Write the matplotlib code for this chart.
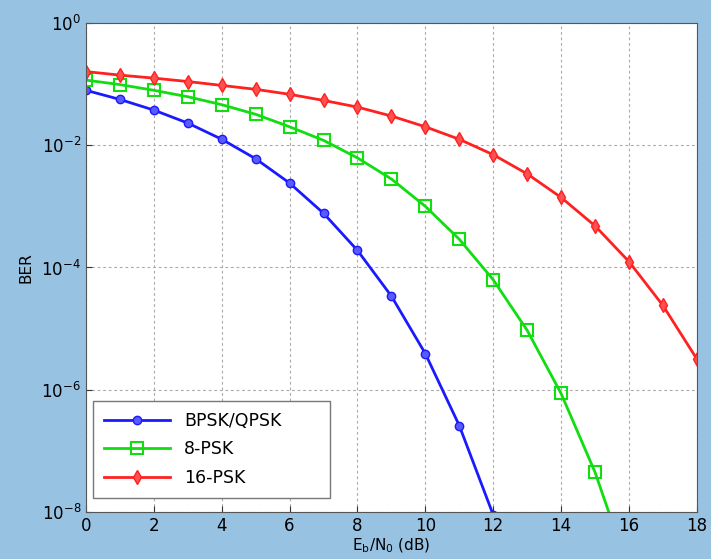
import matplotlib
matplotlib.use('Agg')
import matplotlib.pyplot as plt

ebno = [0, 1, 2, 3, 4, 5, 6, 7, 8, 9, 10, 11, 12, 13, 14, 15, 16, 17, 18]

ber_bpsk = [7.9e-2, 5.6e-2, 3.75e-2, 2.3e-2, 1.25e-2, 6.0e-3, 2.4e-3, 7.7e-4,
            1.9e-4, 3.4e-5, 3.9e-6, 2.6e-7, 9.0e-9]
ber_8psk = [1.16e-1, 9.8e-2, 7.9e-2, 6.2e-2, 4.6e-2, 3.2e-2, 2.0e-2, 1.2e-2,
            6.2e-3, 2.8e-3, 1.0e-3, 2.9e-4, 6.3e-5, 9.4e-6, 8.7e-7, 4.5e-8, 1.1e-9]
ber_16psk = [1.6e-1, 1.4e-1, 1.25e-1, 1.1e-1, 9.5e-2, 8.2e-2, 6.8e-2, 5.4e-2,
             4.2e-2, 3.0e-2, 2.0e-2, 1.25e-2, 7.0e-3, 3.4e-3, 1.4e-3, 4.8e-4,
             1.25e-4, 2.4e-5, 3.2e-6]

fig = plt.figure(figsize=(7.11, 5.59), dpi=100, facecolor='#98c2e2')
ax = fig.add_axes([0.121, 0.084, 0.859, 0.875])
ax.set_facecolor('white')

ax.semilogy(ebno[:len(ber_bpsk)], ber_bpsk, '-o', color='#1a1aff', lw=2,
            ms=6, mfc='#5a5aff', mec='#1a1aff', label='BPSK/QPSK')
ax.semilogy(ebno[:len(ber_8psk)], ber_8psk, '-s', color='#11dd11', lw=2,
            ms=8, mfc='none', mec='#11dd11', mew=1.5, label='8-PSK')
ax.semilogy(ebno, ber_16psk, '-d', color='#ff2020', lw=2,
            ms=7, mfc='#ff5050', mec='#ff2020', label='16-PSK')

ax.set_xlim(0, 18)
ax.set_ylim(1e-8, 1e0)
ax.set_xticks(range(0, 19, 2))
ax.set_yticks([1e0, 1e-2, 1e-4, 1e-6, 1e-8])
ax.minorticks_off()
ax.tick_params(labelsize=12, direction='in', length=4, colors='#333333',
               labelcolor='black')
ax.grid(True, ls=(0, (2.5, 2.5)), color='#aaaaaa', lw=0.8)
for s in ax.spines.values():
    s.set_color('#555555')

ax.set_xlabel(r'E$_\mathrm{b}$/N$_\mathrm{0}$ (dB)', fontsize=11, labelpad=1)
ax.set_ylabel('BER', fontsize=11, labelpad=6)

leg = ax.legend(loc='lower left', bbox_to_anchor=(0.0115, 0.0286, 0.388, 0.2),
                mode='expand', borderaxespad=0, fontsize=12.5, fancybox=False,
                edgecolor='#777777', framealpha=1, handlelength=3.8,
                borderpad=0.65, labelspacing=0.6)
leg.get_frame().set_linewidth(1.0)

fig.savefig('out.png', dpi=100, facecolor=fig.get_facecolor())
